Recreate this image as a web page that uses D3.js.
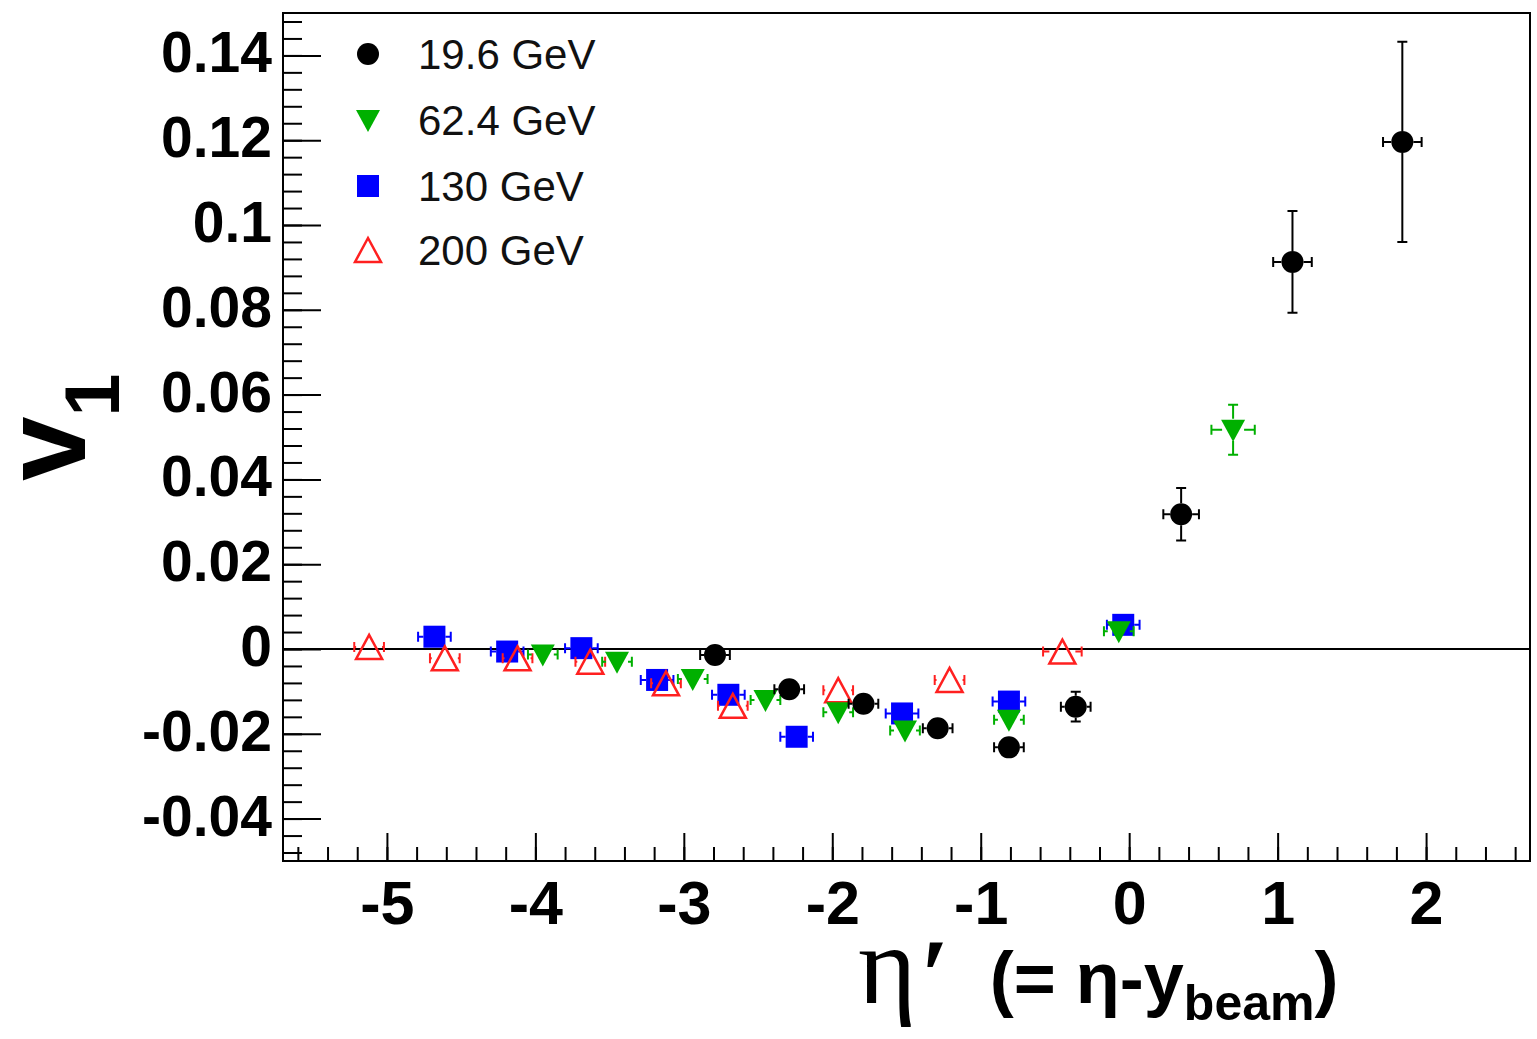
<!DOCTYPE html>
<html>
<head>
<meta charset="utf-8">
<script src="https://cdn.jsdelivr.net/npm/d3@7"></script>
<style>
  html, body { margin: 0; padding: 0; background: #fff; }
  svg { display: block; }
</style>
</head>
<body>
<svg id="chart" width="1537" height="1039"></svg>
<script>
// Tick values and labels
const xTickValues = [-5, -4, -3, -2, -1, 0, 1, 2];
const xTickLabels = ['-5', '-4', '-3', '-2', '-1', '0', '1', '2'];
const yTickValues = [-0.04, -0.02, 0, 0.02, 0.04, 0.06, 0.08, 0.1, 0.12, 0.14];
const yTickLabels = ['-0.04', '-0.02', '0', '0.02', '0.04', '0.06', '0.08', '0.1', '0.12', '0.14'];

// 19.6 GeV
const x196 = [-2.79, -2.29, -1.79, -1.29, -0.81, -0.36, 0.35, 1.10, 1.84];
const y196 = [-0.0014, -0.0095, -0.0129, -0.0187, -0.0232, -0.0136, 0.0318, 0.0913, 0.1196];
const xErr196 = [0.10, 0.10, 0.10, 0.10, 0.10, 0.10, 0.12, 0.13, 0.13];
const yErr196 = [0.001, 0.001, 0.001, 0.001, 0.001, 0.0035, 0.0062, 0.012, 0.0236];

// 62.4 GeV
const x624 = [-3.95, -3.45, -2.94, -2.45, -1.96, -1.51, -0.81, -0.07, 0.70];
const y624 = [-0.0013, -0.003, -0.0071, -0.012, -0.0149, -0.0192, -0.0167, 0.0042, 0.0517];
const xErr624 = [0.10, 0.10, 0.10, 0.10, 0.10, 0.10, 0.10, 0.10, 0.146];
const yErr624 = [0.001, 0.001, 0.001, 0.001, 0.001, 0.001, 0.001, 0.001, 0.0059];

// 130 GeV
const x130 = [-4.68, -4.19, -3.69, -3.18, -2.70, -2.24, -1.53, -0.81, -0.04];
const y130 = [0.0029, -0.0006, 0.0002, -0.0073, -0.0108, -0.0207, -0.0152, -0.0124, 0.0057];
const xErr130 = [0.11, 0.11, 0.11, 0.11, 0.11, 0.11, 0.11, 0.11, 0.11];
const yErr130 = [0.001, 0.001, 0.001, 0.001, 0.001, 0.001, 0.001, 0.001, 0.001];

// 200 GeV
const x200 = [-5.12, -4.61, -4.12, -3.63, -3.12, -2.67, -1.96, -1.21, -0.45];
const y200 = [0.0005, -0.0022, -0.0022, -0.003, -0.0081, -0.0134, -0.0097, -0.0073, -0.0006];
const xErr200 = [0.10, 0.10, 0.10, 0.10, 0.10, 0.10, 0.10, 0.10, 0.13];
const yErr200 = [0.001, 0.001, 0.001, 0.001, 0.001, 0.001, 0.001, 0.001, 0.001];

const legendLabels = ['19.6 GeV', '62.4 GeV', '130 GeV', '200 GeV'];

const series = [
  { name: legendLabels[0], x: x196, y: y196, xe: xErr196, ye: yErr196, color: '#000000', shape: 'circle', gap: 11 },
  { name: legendLabels[1], x: x624, y: y624, xe: xErr624, ye: yErr624, color: '#00b000', shape: 'tridown', gap: 11 },
  { name: legendLabels[2], x: x130, y: y130, xe: xErr130, ye: yErr130, color: '#0000ff', shape: 'square', gap: 11 },
  { name: legendLabels[3], x: x200, y: y200, xe: xErr200, ye: yErr200, color: '#ff2020', shape: 'triup', gap: 13 }
];
// drawing order (back to front)
const drawOrder = [2, 3, 1, 0];

const svg = d3.select('#chart');
const plotLeft = 283, plotRight = 1530, plotTop = 13, plotBottom = 861;

const x = d3.scaleLinear().domain([-5.7, 2.7]).range([plotLeft, plotRight]);
const y = d3.scaleLinear().domain([-0.05, 0.15]).range([plotBottom, plotTop]);

const sans = "'Liberation Sans', Arial, Helvetica, sans-serif";
const serif = "'Liberation Serif', 'DejaVu Serif', serif";

// frame
svg.append('rect')
  .attr('x', plotLeft).attr('y', plotTop)
  .attr('width', plotRight - plotLeft).attr('height', plotBottom - plotTop)
  .attr('fill', 'none').attr('stroke', '#000').attr('stroke-width', 2);

function cleanAxis(g) {
  g.select('.domain').remove();
  g.selectAll('line').attr('stroke', '#000').attr('stroke-width', 2);
}

// y ticks (inside)
const yMinor = d3.range(-0.048, 0.1495, 0.004);
svg.append('g').attr('transform', `translate(${plotLeft},0)`)
  .call(d3.axisRight(y).tickValues(yMinor).tickSize(19).tickFormat(''))
  .call(cleanAxis);
svg.append('g').attr('transform', `translate(${plotLeft},0)`)
  .call(d3.axisRight(y).tickValues(yTickValues).tickSize(38).tickFormat(''))
  .call(cleanAxis);
svg.append('g').attr('transform', `translate(${plotLeft},0)`)
  .call(d3.axisLeft(y).tickValues(yTickValues).tickSize(0).tickPadding(11)
    .tickFormat((d, i) => yTickLabels[i]))
  .call(g => g.select('.domain').remove())
  .call(g => g.selectAll('text').attr('font-family', sans).attr('font-weight', 700)
    .attr('font-size', 57).attr('fill', '#000').attr('dy', '0.29em'));

// x ticks (inside)
const xMinor = d3.range(-5.6, 2.65, 0.2);
svg.append('g').attr('transform', `translate(0,${plotBottom})`)
  .call(d3.axisTop(x).tickValues(xMinor).tickSize(14).tickFormat(''))
  .call(cleanAxis);
svg.append('g').attr('transform', `translate(0,${plotBottom})`)
  .call(d3.axisTop(x).tickValues(xTickValues).tickSize(28).tickFormat(''))
  .call(cleanAxis);
svg.append('g').attr('transform', `translate(0,${plotBottom})`)
  .call(d3.axisBottom(x).tickValues(xTickValues).tickSize(0).tickPadding(20)
    .tickFormat((d, i) => xTickLabels[i]))
  .call(g => g.select('.domain').remove())
  .call(g => g.selectAll('text').attr('font-family', sans).attr('font-weight', 700)
    .attr('font-size', 61).attr('fill', '#000'));

// zero line
svg.append('line')
  .attr('x1', plotLeft).attr('x2', plotRight)
  .attr('y1', y(0)).attr('y2', y(0))
  .attr('stroke', '#000').attr('stroke-width', 2);

// marker shapes
function markerPath(shape) {
  if (shape === 'square') return 'M-11,-11H11V11H-11Z';
  if (shape === 'tridown') return 'M-12,-10L12,-10L0,12Z';
  if (shape === 'triup') return 'M0,-12L13,12L-13,12Z';
  return d3.symbol(d3.symbolCircle, Math.PI * 11 * 11)();
}
function styleMarker(sel, s) {
  if (s.shape === 'triup') {
    sel.attr('fill', 'none').attr('stroke', s.color).attr('stroke-width', 2.5);
  } else {
    sel.attr('fill', s.color);
  }
}

const cap = 5;
drawOrder.forEach(si => {
  const s = series[si];
  const pts = s.x.map((v, i) => ({ x: v, y: s.y[i], xe: s.xe[i], ye: s.ye[i] }));
  const g = svg.append('g');

  const eb = g.append('g').attr('stroke', s.color).attr('stroke-width', 2).attr('fill', 'none');
  pts.forEach(p => {
    const cx = x(p.x), cy = y(p.y);
    const xl = x(p.x - p.xe), xr = x(p.x + p.xe);
    const ytop = y(p.y + p.ye), ybot = y(p.y - p.ye);
    let d = '';
    if (cx - xl > s.gap) {
      d += `M${cx - s.gap},${cy}H${xl}M${xl},${cy - cap}V${cy + cap}`;
      d += `M${cx + s.gap},${cy}H${xr}M${xr},${cy - cap}V${cy + cap}`;
    }
    if (cy - ytop > s.gap) {
      d += `M${cx},${cy - s.gap}V${ytop}M${cx - cap},${ytop}H${cx + cap}`;
      d += `M${cx},${cy + s.gap}V${ybot}M${cx - cap},${ybot}H${cx + cap}`;
    }
    if (d) eb.append('path').attr('d', d);
  });

  g.selectAll('path.mk').data(pts).join('path')
    .attr('class', 'mk')
    .attr('d', markerPath(s.shape))
    .attr('transform', p => `translate(${x(p.x)},${y(p.y)})`)
    .call(sel => styleMarker(sel, s));
});

// legend
const legendY = [54, 120, 186, 250];
series.forEach((s, i) => {
  svg.append('path')
    .attr('d', markerPath(s.shape))
    .attr('transform', `translate(368,${legendY[i]})`)
    .call(sel => styleMarker(sel, s));
  svg.append('text')
    .attr('x', 418).attr('y', legendY[i]).attr('dy', '0.36em')
    .attr('font-family', sans).attr('font-size', 42).attr('fill', '#111')
    .text(s.name);
});

// y title
const yTitle = svg.append('text')
  .attr('transform', 'translate(85,481) rotate(-90)')
  .attr('font-family', sans).attr('font-weight', 700).attr('font-size', 116).attr('fill', '#000');
yTitle.append('tspan').text('v');
yTitle.append('tspan').attr('dy', 34).attr('font-size', 77).text('1');

// x title
const xTitle = svg.append('text')
  .attr('x', 858).attr('y', 1003).attr('fill', '#000');
xTitle.append('tspan').attr('font-family', serif).attr('font-size', 112).text('η');
xTitle.append('tspan').attr('dx', 4).attr('dy', 8).attr('font-family', serif)
  .attr('font-weight', 700).attr('font-size', 104).text('′');
xTitle.append('tspan').attr('dx', 40).attr('dy', -8).attr('font-family', sans).attr('font-weight', 700).attr('font-size', 72).text('(= η-y');
xTitle.append('tspan').attr('dy', 17).attr('font-family', sans).attr('font-weight', 700).attr('font-size', 50).text('beam');
xTitle.append('tspan').attr('dy', -17).attr('font-family', sans).attr('font-weight', 700).attr('font-size', 72).text(')');
</script>
</body>
</html>
